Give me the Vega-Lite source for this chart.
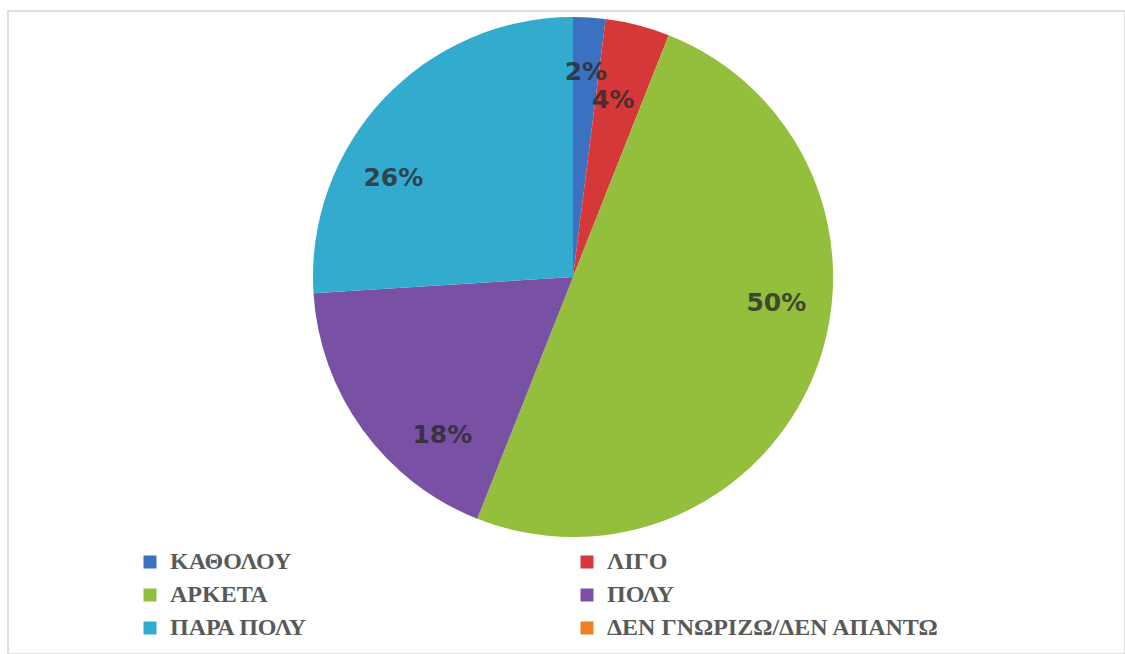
{
  "$schema": "https://vega.github.io/schema/vega-lite/v6.json",
  "width": 1125,
  "height": 654,
  "autosize": {"type": "fit", "contains": "padding"},
  "padding": {"left": 8, "top": 11, "right": 0, "bottom": 0},
  "background": "#ffffff",
  "view": {"stroke": "#d4d4d4", "strokeWidth": 1.5},
  "data": {
    "values": [
      {"idx": 1, "category": "ΚΑΘΟΛΟΥ", "value": 2, "label": "2%"},
      {"idx": 2, "category": "ΛΙΓΟ", "value": 4, "label": "4%"},
      {"idx": 3, "category": "ΑΡΚΕΤΑ", "value": 50, "label": "50%"},
      {"idx": 4, "category": "ΠΟΛΥ", "value": 18, "label": "18%"},
      {"idx": 5, "category": "ΠΑΡΑ ΠΟΛΥ", "value": 26, "label": "26%"},
      {"idx": 6, "category": "ΔΕΝ ΓΝΩΡΙΖΩ/ΔΕΝ ΑΠΑΝΤΩ", "value": 0, "label": ""}
    ]
  },
  "encoding": {
    "theta": {"field": "value", "type": "quantitative", "stack": true},
    "order": {"field": "idx", "type": "quantitative"}
  },
  "layer": [
    {
      "mark": {"type": "arc", "radius": 260, "xOffset": 6.5, "yOffset": -55.5},
      "encoding": {
        "color": {
          "field": "category",
          "type": "nominal",
          "sort": null,
          "scale": {
            "domain": ["ΚΑΘΟΛΟΥ", "ΛΙΓΟ", "ΑΡΚΕΤΑ", "ΠΟΛΥ", "ΠΑΡΑ ΠΟΛΥ", "ΔΕΝ ΓΝΩΡΙΖΩ/ΔΕΝ ΑΠΑΝΤΩ"],
            "range": ["#3c71c1", "#d6383a", "#93bf3d", "#7850a4", "#33abcf", "#f08020"]
          },
          "legend": {
            "title": null,
            "orient": "none",
            "legendX": 130,
            "legendY": 539,
            "direction": "horizontal",
            "columns": 2,
            "columnPadding": 267,
            "rowPadding": 9,
            "padding": 0,
            "symbolType": "square",
            "symbolSize": 169,
            "symbolStrokeWidth": 0,
            "symbolOffset": 0,
            "labelOffset": 8,
            "labelFont": "Liberation Serif",
            "labelFontWeight": "bold",
            "labelFontSize": 24,
            "labelColor": "#595959",
            "labelLimit": 700
          }
        }
      }
    },
    {
      "transform": [{"filter": "datum.value > 0 && datum.idx != 2"}],
      "mark": {
        "type": "text",
        "radius": 205,
        "xOffset": 6.5,
        "yOffset": -55.5,
        "font": "DejaVu Sans",
        "fontWeight": "bold",
        "fontSize": 25,
        "fill": "#2b2b2b",
        "opacity": 0.8
      },
      "encoding": {
        "text": {"field": "label", "type": "nominal"}
      }
    },
    {
      "transform": [{"filter": "datum.idx == 2"}],
      "mark": {
        "type": "text",
        "radius": 178,
        "xOffset": 6.5,
        "yOffset": -55.5,
        "dx": 18,
        "font": "DejaVu Sans",
        "fontWeight": "bold",
        "fontSize": 25,
        "fill": "#2b2b2b",
        "opacity": 0.8
      },
      "encoding": {
        "text": {"field": "label", "type": "nominal"}
      }
    }
  ]
}
